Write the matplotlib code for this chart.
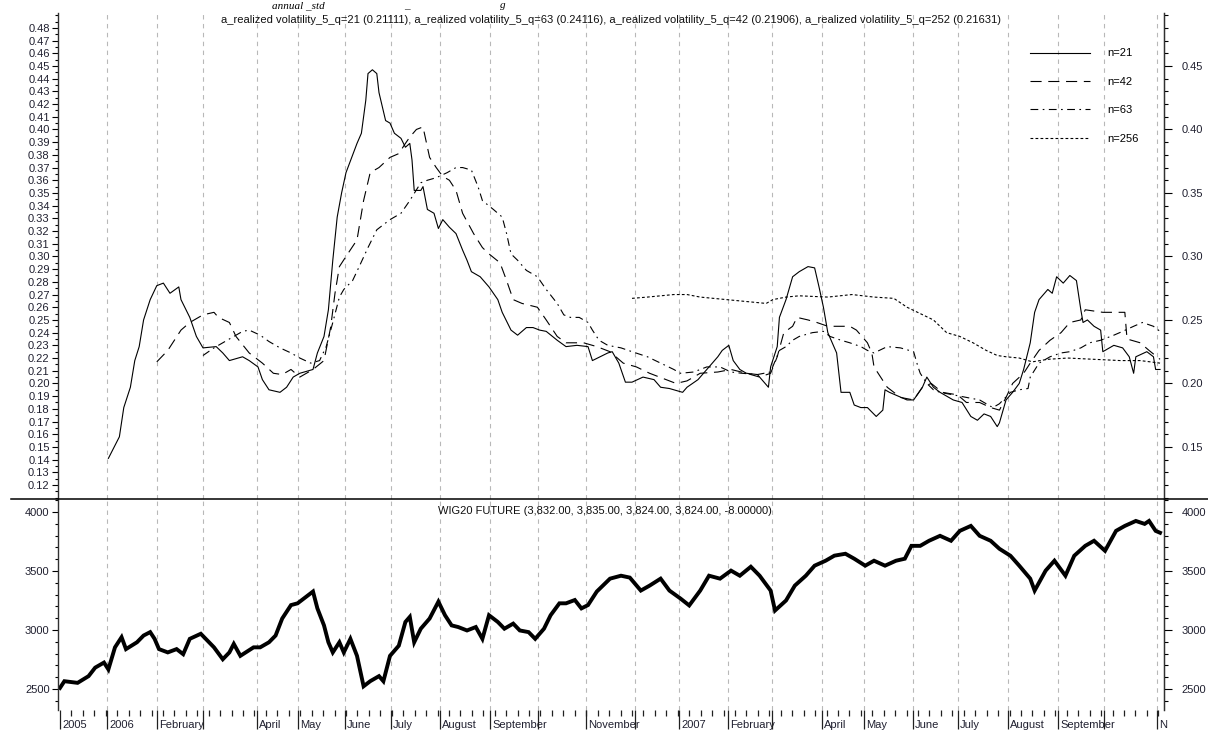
import matplotlib
matplotlib.use("Agg")
import matplotlib.pyplot as plt
import matplotlib.transforms as mtransforms
import numpy as np
from matplotlib.lines import Line2D
from matplotlib.ticker import MultipleLocator

plt.rcParams["font.family"] = ["Liberation Sans", "DejaVu Sans"]
plt.rcParams["font.size"] = 8

# x = trading session index (0 = first session on the chart, Dec 2005)
vol21_day = [22, 27, 29, 32, 34, 36, 38, 41, 44, 47, 50, 54, 55, 59, 62, 65, 71, 74, 77, 83, 86, 90, 92, 95, 100,
             103, 106, 109, 115, 117, 120, 122, 124, 126, 128, 130, 135, 137, 139, 140, 142, 144, 145, 148, 150, 152,
             155, 157, 159, 160, 161, 164, 165, 167, 170, 172, 174, 177, 180, 183, 185, 187, 191, 195, 199, 201, 205,
             208, 212, 215, 218, 221, 226, 230, 235, 240, 242, 249, 251, 254, 257, 260, 265, 270, 273, 277, 283, 285,
             290, 294, 299, 301, 304, 306, 309, 312, 317, 320, 322, 323, 326, 327, 330, 333, 336, 340, 343, 345, 347,
             349, 353, 355, 359, 361, 364, 367, 371, 374, 375, 377, 385, 388, 392, 394, 397, 400, 406, 410, 414, 417,
             420, 423, 426, 427, 430, 433, 436, 438, 441, 443, 445, 449, 451, 453, 456, 459, 462, 464, 465, 467, 470,
             473, 474, 479, 483, 486, 488, 489, 494, 497, 498, 500]
vol21 = [0.141, 0.158, 0.181, 0.197, 0.218, 0.229, 0.250, 0.266, 0.277, 0.279, 0.271, 0.276, 0.266, 0.252, 0.237,
         0.228, 0.229, 0.224, 0.218, 0.221, 0.218, 0.213, 0.203, 0.195, 0.193, 0.197, 0.205, 0.208, 0.211, 0.224,
         0.237, 0.258, 0.297, 0.331, 0.350, 0.366, 0.389, 0.397, 0.423, 0.444, 0.447, 0.444, 0.429, 0.407, 0.405,
         0.397, 0.393, 0.386, 0.389, 0.376, 0.352, 0.352, 0.355, 0.337, 0.334, 0.322, 0.329, 0.323, 0.318, 0.305,
         0.297, 0.288, 0.284, 0.276, 0.266, 0.256, 0.242, 0.238, 0.244, 0.244, 0.242, 0.241, 0.234, 0.229, 0.230,
         0.229, 0.218, 0.224, 0.225, 0.216, 0.201, 0.201, 0.205, 0.203, 0.197, 0.196, 0.193, 0.197, 0.203, 0.211,
         0.221, 0.226, 0.230, 0.218, 0.211, 0.208, 0.207, 0.201, 0.197, 0.213, 0.229, 0.252, 0.266, 0.284, 0.288,
         0.292, 0.291, 0.276, 0.260, 0.240, 0.224, 0.193, 0.193, 0.183, 0.181, 0.181, 0.174, 0.179, 0.195, 0.193,
         0.187, 0.187, 0.197, 0.205, 0.197, 0.193, 0.187, 0.185, 0.174, 0.171, 0.176, 0.174, 0.166, 0.169, 0.187,
         0.193, 0.200, 0.211, 0.232, 0.256, 0.266, 0.274, 0.271, 0.284, 0.279, 0.285, 0.281, 0.258, 0.248, 0.250,
         0.245, 0.242, 0.225, 0.230, 0.228, 0.221, 0.208, 0.221, 0.225, 0.221, 0.211, 0.211]

vol42_day = [44, 49, 55, 59, 65, 70, 72, 77, 80, 86, 92, 97, 101, 105, 109, 115, 120, 123, 125, 127, 130, 135, 138,
             141, 145, 150, 154, 157, 159, 162, 165, 168, 171, 174, 177, 180, 183, 188, 192, 195, 200, 203, 206, 210,
             217, 221, 226, 230, 238, 244, 250, 256, 262, 268, 274, 280, 285, 291, 299, 305, 312, 318, 323, 326, 329,
             333, 335, 340, 344, 349, 353, 359, 362, 367, 369, 370, 373, 376, 382, 388, 392, 396, 401, 408, 412, 418,
             423, 427, 430, 433, 438, 441, 445, 450, 455, 459, 464, 466, 474, 480, 484, 485, 491, 495, 500]
vol42 = [0.217, 0.226, 0.242, 0.248, 0.254, 0.256, 0.252, 0.248, 0.237, 0.224, 0.216, 0.208, 0.207, 0.211, 0.205,
         0.211, 0.218, 0.244, 0.271, 0.292, 0.300, 0.313, 0.344, 0.366, 0.370, 0.378, 0.381, 0.389, 0.394, 0.400,
         0.402, 0.378, 0.370, 0.363, 0.360, 0.352, 0.334, 0.318, 0.307, 0.302, 0.295, 0.281, 0.266, 0.263, 0.260,
         0.250, 0.237, 0.232, 0.232, 0.229, 0.225, 0.216, 0.213, 0.208, 0.204, 0.200, 0.202, 0.208, 0.209, 0.211,
         0.208, 0.205, 0.208, 0.221, 0.240, 0.245, 0.252, 0.250, 0.248, 0.245, 0.245, 0.245, 0.242, 0.232, 0.224,
         0.213, 0.205, 0.197, 0.189, 0.187, 0.197, 0.200, 0.193, 0.191, 0.185, 0.185, 0.181, 0.179, 0.189, 0.200,
         0.208, 0.216, 0.226, 0.234, 0.240, 0.248, 0.250, 0.258, 0.256, 0.256, 0.256, 0.235, 0.232, 0.226, 0.219]

vol63_day = [65, 70, 74, 79, 83, 86, 91, 95, 100, 105, 109, 114, 118, 121, 124, 127, 129, 133, 136, 140, 144, 150,
             155, 159, 164, 167, 171, 176, 180, 183, 187, 190, 192, 197, 201, 203, 205, 208, 212, 217, 221, 226, 229,
             232, 236, 240, 242, 245, 249, 255, 260, 267, 273, 279, 282, 288, 294, 300, 305, 310, 317, 323, 327, 330,
             333, 336, 342, 347, 350, 355, 359, 364, 367, 370, 376, 382, 388, 390, 391, 394, 397, 400, 406, 412, 418,
             424, 427, 432, 436, 440, 441, 445, 450, 455, 459, 464, 468, 473, 479, 483, 488, 492, 497, 500]
vol63 = [0.222, 0.228, 0.232, 0.237, 0.241, 0.242, 0.238, 0.233, 0.228, 0.224, 0.220, 0.216, 0.218, 0.229, 0.248,
         0.268, 0.274, 0.281, 0.292, 0.307, 0.321, 0.329, 0.334, 0.344, 0.358, 0.360, 0.362, 0.366, 0.370, 0.370,
         0.368, 0.355, 0.344, 0.337, 0.331, 0.318, 0.302, 0.297, 0.289, 0.284, 0.274, 0.263, 0.254, 0.252, 0.252,
         0.248, 0.242, 0.234, 0.230, 0.228, 0.225, 0.221, 0.216, 0.211, 0.208, 0.209, 0.213, 0.213, 0.209, 0.208,
         0.207, 0.209, 0.226, 0.229, 0.234, 0.237, 0.240, 0.241, 0.237, 0.234, 0.232, 0.229, 0.226, 0.224, 0.229,
         0.228, 0.225, 0.213, 0.208, 0.200, 0.195, 0.193, 0.191, 0.189, 0.187, 0.181, 0.184, 0.193, 0.195, 0.196,
         0.205, 0.216, 0.221, 0.224, 0.225, 0.228, 0.232, 0.234, 0.238, 0.241, 0.245, 0.248, 0.245, 0.241]

vol256_day = [260, 267, 273, 279, 285, 291, 297, 303, 309, 315, 321, 324, 330, 336, 349, 360, 370, 379, 385, 391,
              397, 403, 409, 415, 421, 426, 430, 436, 442, 449, 458, 470, 482, 491, 500]
vol256 = [0.267, 0.268, 0.269, 0.270, 0.270, 0.268, 0.267, 0.266, 0.265, 0.264, 0.263, 0.266, 0.268, 0.269, 0.268,
          0.270, 0.268, 0.267, 0.260, 0.255, 0.250, 0.240, 0.237, 0.232, 0.226, 0.222, 0.221, 0.220, 0.217, 0.219,
          0.220, 0.219, 0.218, 0.218, 0.216]

price_day = [0, 2, 8, 13, 16, 20, 22, 25, 28, 30, 35, 38, 41, 43, 45, 49, 53, 56, 59, 64, 67, 70, 74, 77, 79, 82, 88,
             91, 95, 98, 101, 105, 108, 112, 115, 117, 120, 122, 124, 127, 129, 132, 135, 138, 141, 145, 147, 150, 154,
             157, 159, 161, 164, 168, 172, 175, 178, 181, 185, 189, 192, 195, 199, 202, 206, 209, 213, 216, 220, 223,
             227, 230, 234, 237, 240, 244, 250, 255, 259, 264, 268, 273, 277, 282, 286, 291, 295, 300, 305, 309, 314,
             318, 323, 325, 330, 334, 339, 343, 348, 352, 357, 361, 366, 370, 375, 380, 384, 387, 391, 395, 400, 405,
             409, 414, 418, 423, 427, 432, 436, 441, 443, 448, 452, 457, 461, 466, 470, 475, 480, 484, 489, 493, 495,
             498, 500]
price = [2509, 2566, 2552, 2609, 2681, 2724, 2666, 2853, 2939, 2838, 2896, 2953, 2982, 2925, 2838, 2810, 2838, 2795,
         2925, 2968, 2910, 2853, 2752, 2810, 2882, 2781, 2853, 2853, 2896, 2953, 3097, 3211, 3226, 3283, 3326, 3183,
         3039, 2896, 2810, 2896, 2810, 2925, 2781, 2523, 2566, 2609, 2566, 2781, 2867, 3068, 3111, 2896, 3011, 3097,
         3240, 3125, 3039, 3025, 2996, 3025, 2925, 3125, 3068, 3011, 3054, 2996, 2982, 2925, 3011, 3125, 3226, 3226,
         3254, 3183, 3211, 3326, 3435, 3460, 3444, 3334, 3376, 3435, 3334, 3267, 3208, 3334, 3460, 3435, 3503, 3460,
         3536, 3460, 3334, 3165, 3250, 3376, 3460, 3545, 3587, 3630, 3646, 3604, 3545, 3587, 3545, 3587, 3604, 3713,
         3713, 3756, 3798, 3756, 3840, 3882, 3798, 3756, 3688, 3629, 3545, 3435, 3334, 3503, 3587, 3460, 3629, 3713,
         3756, 3671, 3840, 3882, 3924, 3899, 3924, 3840, 3824]

# month starts (session index) and the labels printed under them
month_day = [0, 21.4, 44.1, 65, 89.5, 108.2, 129.5, 150.5, 172.7, 195.5, 217.3, 239.1, 261.4, 281.4, 303.6, 323.6,
             346.4, 365.5, 387.7, 408.2, 430.9, 453.6, 474.5, 498.6]
month_label = ["2005", "2006", "February", "", "April", "May", "June", "July", "August", "September", "",
               "November", "", "2007", "February", "", "April", "May", "June", "July", "August", "September", "", "N"]

top_title = ("a_realized volatility_5_q=21 (0.21111), a_realized volatility_5_q=63 (0.24116), "
             "a_realized volatility_5_q=42 (0.21906), a_realized volatility_5_q=252 (0.21631)")
bottom_title = "WIG20 FUTURE (3,832.00, 3,835.00, 3,824.00, 3,824.00, -8.00000)"

W, H = 1208, 731
fig = plt.figure(figsize=(W / 100, H / 100), dpi=100)
L, R = 58 / W, 1164 / W
ax1 = fig.add_axes([L, 1 - 499 / H, R - L, (499 - 13) / H])
ax2 = fig.add_axes([L, 1 - 710 / H, R - L, (710 - 499) / H], sharex=ax1)

LW = 0.8
ax1.plot(vol21_day, vol21, color="black", lw=LW, ls="-", label="n=21")
ax1.plot(vol42_day, vol42, color="black", lw=LW, ls=(0, (10, 6)), label="n=42")
ax1.plot(vol63_day, vol63, color="black", lw=LW, ls=(0, (7, 4, 1.5, 4)), label="n=63")
ax1.plot(vol256_day, vol256, color="black", lw=LW, ls=(0, (2.5, 2)), label="n=256")
ax2.plot(price_day, price, color="black", lw=2.8, solid_joinstyle="miter")

ax1.set_xlim(-0.9, 501.8)
ax1.set_ylim(0.109, 0.4917)
ax2.set_ylim(2322, 4110)

grid_kw = dict(color="#b8b8b8", lw=0.8, ls=(0, (4, 4)))
for ax in (ax1, ax2):
    for d in month_day[1:]:
        ax.axvline(d, zorder=0, **grid_kw)
    for side in ("top", "bottom"):
        ax.spines[side].set_visible(False)
    for side in ("left", "right"):
        ax.spines[side].set_color("#303030")
        ax.spines[side].set_linewidth(1.0)

tick_color = "#202030"
# top panel, left axis
ax1.set_yticks(np.arange(0.12, 0.4851, 0.01))
ax1.set_yticklabels([f"{v:.2f}" for v in np.arange(0.12, 0.4851, 0.01)])
ax1.yaxis.set_minor_locator(MultipleLocator(0.005))
ax1.tick_params(axis="y", which="major", length=4.5, width=0.8, pad=1.5, labelcolor=tick_color)
ax1.tick_params(axis="y", which="minor", length=2.5, width=0.8)
ax1.tick_params(axis="x", which="both", bottom=False, labelbottom=False)

ax1r = ax1.twinx()
ax1r.set_ylim(ax1.get_ylim())
ax1r.set_yticks(np.arange(0.15, 0.451, 0.05))
ax1r.set_yticklabels([f"{v:.2f}" for v in np.arange(0.15, 0.451, 0.05)])
ax1r.yaxis.set_minor_locator(MultipleLocator(0.01))
ax1r.tick_params(axis="y", which="major", length=5.5, width=0.8, pad=7, labelcolor=tick_color)
ax1r.tick_params(axis="y", which="minor", length=3, width=0.8)
for side in ("top", "bottom", "left"):
    ax1r.spines[side].set_visible(False)
ax1r.spines["right"].set_color("#303030")

# bottom panel
ax2.set_yticks([2500, 3000, 3500, 4000])
ax2.yaxis.set_minor_locator(MultipleLocator(100))
ax2.tick_params(axis="y", which="major", length=4.5, width=0.8, pad=1.5, labelcolor=tick_color)
ax2.tick_params(axis="y", which="minor", length=2.5, width=0.8)

ax2r = ax2.twinx()
ax2r.set_ylim(ax2.get_ylim())
ax2r.set_yticks([2500, 3000, 3500, 4000])
ax2r.yaxis.set_minor_locator(MultipleLocator(100))
ax2r.tick_params(axis="y", which="major", length=5.5, width=0.8, pad=7, labelcolor=tick_color)
ax2r.tick_params(axis="y", which="minor", length=3, width=0.8)
for side in ("top", "bottom", "left"):
    ax2r.spines[side].set_visible(False)
ax2r.spines["right"].set_color("#303030")

ax2.set_xticks(month_day)
ax2.set_xticklabels(month_label, ha="left")
ax2.xaxis.set_minor_locator(MultipleLocator(5.2))
ax2.tick_params(axis="x", which="major", length=14, width=0.9, direction="out", pad=-6.8,
                labelcolor=tick_color, color="#202020")
ax2.tick_params(axis="x", which="minor", length=4.3, width=0.9, direction="out", color="#202020")
shift = mtransforms.ScaledTranslation(1.5 / 72, 0, fig.dpi_scale_trans)
for lbl in ax2.get_xticklabels():
    lbl.set_transform(lbl.get_transform() + shift)

# separator between panels
fig.add_artist(Line2D([11 / W, 1], [1 - 499 / H] * 2, transform=fig.transFigure, color="black", lw=1.1))

fig.text(611 / W, 1 - 20 / H, top_title, ha="center", va="center", fontsize=8, color="#101010")
fig.text(605 / W, 1 - 511 / H, bottom_title, ha="center", va="center", fontsize=8, color="#101010")

# remains of the caption line above the chart
serif_kw = dict(family=["Liberation Serif", "DejaVu Serif"], fontstyle="italic", fontsize=8,
                va="top", color="black")
fig.text(272 / W, 1 - 1 / H, "annual _std", **serif_kw)
fig.text(404 / W, 1 - 1 / H, "_", **serif_kw)
fig.text(500 / W, 1 - 1 / H, "g", **serif_kw)

ax1.legend(loc="upper left", bbox_to_anchor=(1030 / W, 1 - 48.5 / H), bbox_transform=fig.transFigure,
           frameon=False, borderpad=0, borderaxespad=0, handlelength=5.4, handletextpad=1.55,
           labelspacing=1.65, fontsize=8)

fig.savefig("out.png", dpi=100)
